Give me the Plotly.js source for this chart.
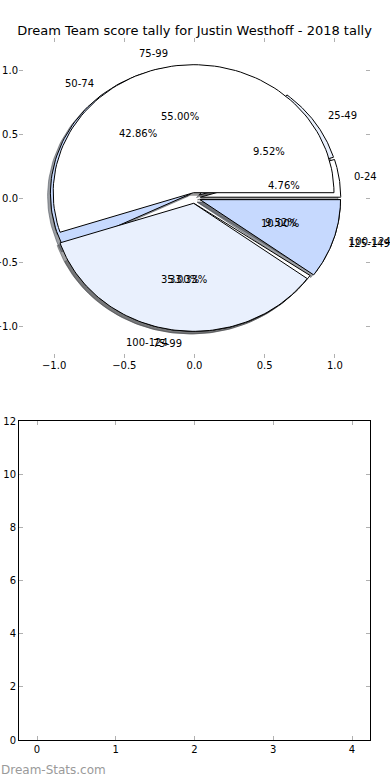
<!DOCTYPE html>
<html>
<head>
<meta charset="utf-8">
<script src="https://cdn.plot.ly/plotly-3.0.1.min.js"></script>
<style>html,body{margin:0;padding:0;background:#fff;}#chart{width:390px;height:780px;}</style>
</head>
<body>
<div id="chart"></div>
<script>
// ---- data ----
const pie1Labels = ['0-24', '25-49', '50-74', '75-99', '100-124'];
const pie1Counts = [1, 2, 9, 7, 2];
const pie2Labels = ['75-99', '100-124', '125-149'];
const pie2Counts = [11, 7, 2];
const sliceColors = ['#ffffff', '#e9f0fd', '#c6d9fe'];
const pieTicks = [-1.0, -0.5, 0.0, 0.5, 1.0];
const barTicksX = [0, 1, 2, 3, 4];
const barTicksY = [0, 2, 4, 6, 8, 10, 12];

// ---- style ----
const EXPLODE = 0.042;
const SHADOW = -0.02;
const FONT = 'DejaVu Sans, Verdana, sans-serif';

function wedges(counts, labels) {
  const total = counts.reduce((a, b) => a + b, 0);
  let t1 = 0;
  return counts.map((c, i) => {
    const t2 = t1 + c / total * 360;
    const mid = (t1 + t2) / 2 * Math.PI / 180;
    const cx = EXPLODE * Math.cos(mid), cy = EXPLODE * Math.sin(mid);
    const xs = [cx], ys = [cy];
    const N = 90;
    for (let k = 0; k <= N; k++) {
      const a = (t1 + (t2 - t1) * k / N) * Math.PI / 180;
      xs.push(cx + Math.cos(a));
      ys.push(cy + Math.sin(a));
    }
    xs.push(cx); ys.push(cy);
    const w = {xs, ys, mid, cx, cy, pct: (c / total * 100).toFixed(2) + '%', label: labels[i], color: sliceColors[i % sliceColors.length]};
    t1 = t2;
    return w;
  });
}

const w1 = wedges(pie1Counts, pie1Labels);
const w2 = wedges(pie2Counts, pie2Labels);

const traces = [];
function shadowRgb(hex) {
  const r = parseInt(hex.slice(1, 3), 16), g = parseInt(hex.slice(3, 5), 16), b = parseInt(hex.slice(5, 7), 16);
  return `rgba(${Math.round(r * 0.3)},${Math.round(g * 0.3)},${Math.round(b * 0.3)},0.5)`;
}
[w1, w2].forEach(ws => ws.forEach(w => {
  traces.push({
    type: 'scatter', mode: 'lines', x: w.xs.map(v => v + SHADOW), y: w.ys.map(v => v + SHADOW),
    fill: 'toself', fillcolor: shadowRgb(w.color), line: {color: shadowRgb(w.color), width: 1},
    hoverinfo: 'skip', showlegend: false, xaxis: 'x', yaxis: 'y'
  });
}));
[w1, w2].forEach(ws => ws.forEach(w => {
  traces.push({
    type: 'scatter', mode: 'lines', x: w.xs, y: w.ys,
    fill: 'toself', fillcolor: w.color, line: {color: '#000', width: 1},
    hoverinfo: 'skip', showlegend: false, xaxis: 'x', yaxis: 'y'
  });
}));
// empty second axes
traces.push({type: 'scatter', mode: 'markers', x: [null], y: [null], xaxis: 'x2', yaxis: 'y2', showlegend: false, hoverinfo: 'skip'});

const annotations = [];
[w1, w2].forEach(ws => ws.forEach(w => {
  const lx = w.cx + 1.1 * Math.cos(w.mid), ly = w.cy + 1.1 * Math.sin(w.mid);
  annotations.push({x: lx, y: ly, xref: 'x', yref: 'y', text: w.label, showarrow: false,
    xanchor: lx > 0 ? 'left' : 'right', yanchor: 'middle', borderpad: 0,
    font: {family: FONT, size: 10, color: '#000'}});
  const px = w.cx + 0.6 * Math.cos(w.mid), py = w.cy + 0.6 * Math.sin(w.mid);
  annotations.push({x: px, y: py, xref: 'x', yref: 'y', text: w.pct, showarrow: false,
    xanchor: 'center', yanchor: 'middle', borderpad: 0,
    font: {family: FONT, size: 10, color: '#000'}});
}));
annotations.push({x: 0, y: 1 - 770 / 780, xref: 'paper', yref: 'paper', text: 'Dream-Stats.com',
  showarrow: false, xanchor: 'left', yanchor: 'middle', borderpad: 0, font: {family: FONT, size: 12, color: '#9a9a9a'}});

const W = 390, H = 780;
const px2x = p => p / W, px2y = p => 1 - p / H;
const tickStyle = {ticks: 'inside', ticklen: 4, tickwidth: 1, tickcolor: '#b0b0b0', showgrid: false, zeroline: false,
  tickfont: {family: FONT, size: 10, color: '#000'}};

const layout = {
  width: W, height: H, margin: {l: 0, r: 0, t: 0, b: 0}, paper_bgcolor: '#fff', plot_bgcolor: 'rgba(0,0,0,0)',
  showlegend: false,
  title: {text: 'Dream Team score tally for Justin Westhoff - 2018 tally', x: px2x(194.5), xref: 'paper', xanchor: 'center',
    y: px2y(30), yref: 'paper', yanchor: 'middle', font: {family: FONT, size: 13, color: '#000'}},
  xaxis: Object.assign({}, tickStyle, {domain: [px2x(19), px2x(370)], range: [-1.25, 1.25], anchor: 'y',
    tickvals: pieTicks, tickformat: '.1f', showline: false, mirror: 'ticks'}),
  yaxis: Object.assign({}, tickStyle, {domain: [px2y(358), px2y(38)], range: [-1.25, 1.25], anchor: 'x',
    tickvals: pieTicks, tickformat: '.1f', showline: false, mirror: 'ticks'}),
  xaxis2: Object.assign({}, tickStyle, {domain: [px2x(19), px2x(370)], range: [-0.2286, 4.2286], anchor: 'y2',
    tickvals: barTicksX, showline: true, linecolor: '#000', linewidth: 1, mirror: 'allticks'}),
  yaxis2: Object.assign({}, tickStyle, {domain: [px2y(740), px2y(421)], range: [0, 12], anchor: 'x2',
    tickvals: barTicksY, showline: true, linecolor: '#000', linewidth: 1, mirror: 'allticks'}),
  annotations
};

Plotly.newPlot('chart', traces, layout, {displayModeBar: false, staticPlot: true});
</script>
</body>
</html>
